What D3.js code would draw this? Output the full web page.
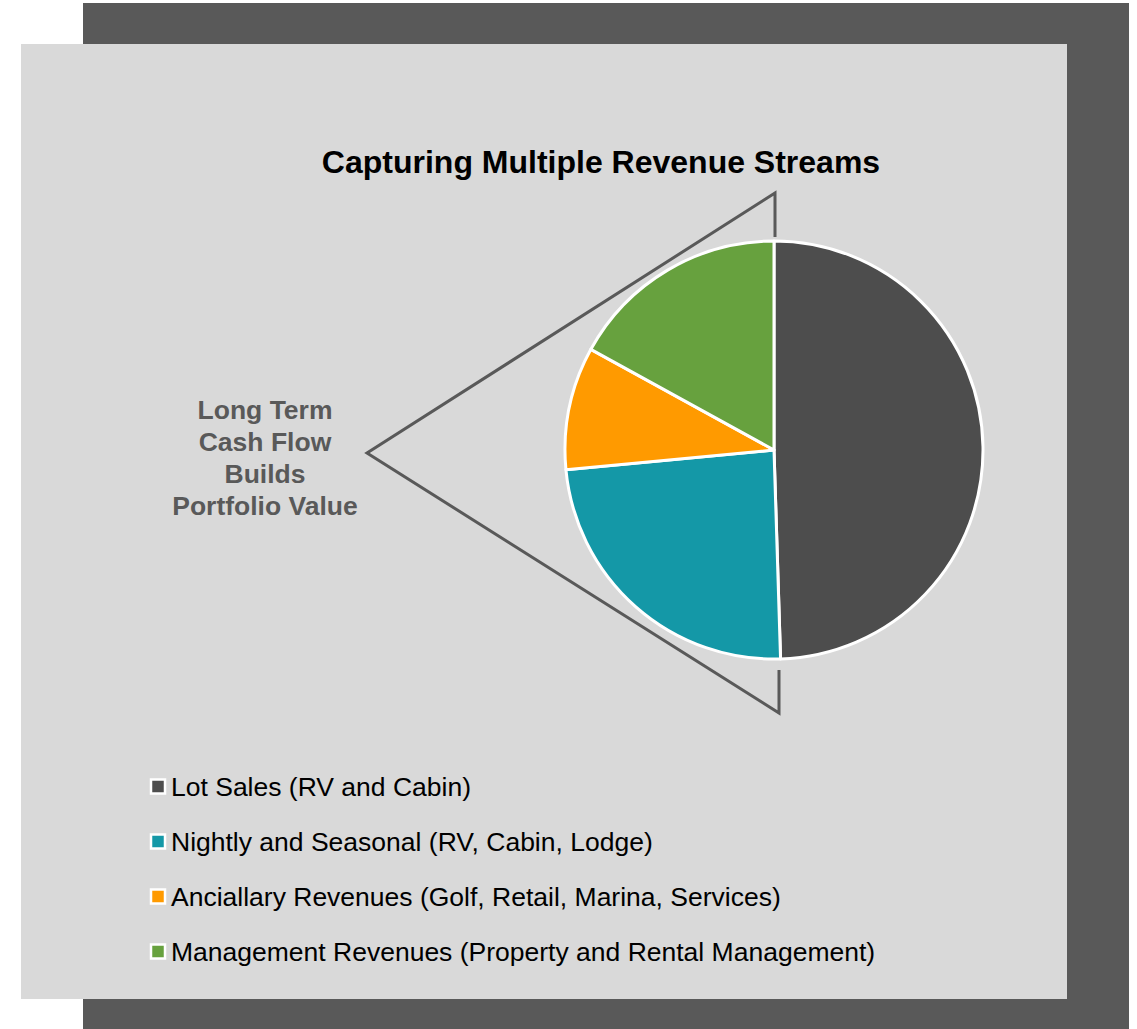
<!DOCTYPE html>
<html>
<head>
<meta charset="utf-8">
<script src="https://cdn.jsdelivr.net/npm/d3@7"></script>
<style>
    body { margin: 0; background: #ffffff; }
    text { font-family: "Liberation Sans", Arial, sans-serif; }
</style>
</head>
<body>
<svg id="chart" width="1137" height="1029"></svg>
<script>
// Data
const categories = [
    'Lot Sales (RV and Cabin)',
    'Nightly and Seasonal (RV, Cabin, Lodge)',
    'Anciallary Revenues (Golf, Retail, Marina, Services)',
    'Management Revenues (Property and Rental Management)'
]
const shares = [49.5, 24, 9.5, 17]
const titleText = 'Capturing Multiple Revenue Streams'
const sideLines = ['Long Term', 'Cash Flow', 'Builds', 'Portfolio Value']

// Styles
const sliceColors = ['#4d4d4d', '#1498a7', '#ff9a00', '#67a13e']
const frameColor = '#595959'
const panelColor = '#d9d9d9'

const svg = d3.select('#chart')

// Background frame + panel
svg.append('rect')
    .attr('x', 83).attr('y', 3)
    .attr('width', 1046).attr('height', 1026)
    .attr('fill', frameColor)
svg.append('rect')
    .attr('x', 21).attr('y', 44)
    .attr('width', 1046).attr('height', 955)
    .attr('fill', panelColor)

// Title
svg.append('text')
    .attr('x', 601).attr('y', 173)
    .attr('text-anchor', 'middle')
    .attr('font-size', 32)
    .attr('font-weight', 'bold')
    .attr('fill', '#000')
    .text(titleText)

// Pie
const cx = 774
const cy = 450
const radius = 209

const pie = d3.pie().sort(null).value(d => d)
const arc = d3.arc().innerRadius(0).outerRadius(radius)

const pieGroup = svg.append('g')
    .attr('transform', `translate(${cx},${cy})`)

pieGroup.selectAll('path')
    .data(pie(shares))
    .join('path')
    .attr('d', arc)
    .attr('fill', (d, i) => sliceColors[i])
    .attr('stroke', '#ffffff')
    .attr('stroke-width', 3)
    .attr('stroke-linejoin', 'round')

// Bracket lines pointing to the side text
const apex = [cx - 407, cy + 3]
const topLine = [[cx + 1, cy - 213], [cx + 1, cy - 257], apex]
const bottomLine = [apex, [cx + 5, cy + 263], [cx + 5, cy + 220]]

const lineGen = d3.line()
svg.append('path')
    .attr('d', lineGen(topLine.concat(bottomLine.slice(1))))
    .attr('fill', 'none')
    .attr('stroke', frameColor)
    .attr('stroke-width', 3)

// Side text
svg.append('text')
    .attr('text-anchor', 'middle')
    .attr('font-size', 26.5)
    .attr('font-weight', 'bold')
    .attr('fill', frameColor)
    .selectAll('tspan')
    .data(sideLines)
    .join('tspan')
    .attr('x', 265)
    .attr('y', (d, i) => 419 + i * 32)
    .text(d => d)

// Legend
const legendY = d3.scaleBand()
    .domain(d3.range(categories.length))
    .range([759, 979])

const legend = svg.append('g')
const legendRows = legend.selectAll('g')
    .data(categories)
    .join('g')
    .attr('transform', (d, i) => `translate(0,${legendY(i) + legendY.bandwidth() / 2})`)

legendRows.append('rect')
    .attr('x', 151).attr('y', -7)
    .attr('width', 14).attr('height', 14)
    .attr('fill', (d, i) => sliceColors[i])
    .attr('stroke', '#ffffff')
    .attr('stroke-width', 2.5)

legendRows.append('text')
    .attr('x', 171)
    .attr('y', 9)
    .attr('font-size', 26.5)
    .attr('fill', '#000')
    .text(d => d)
</script>
</body>
</html>
